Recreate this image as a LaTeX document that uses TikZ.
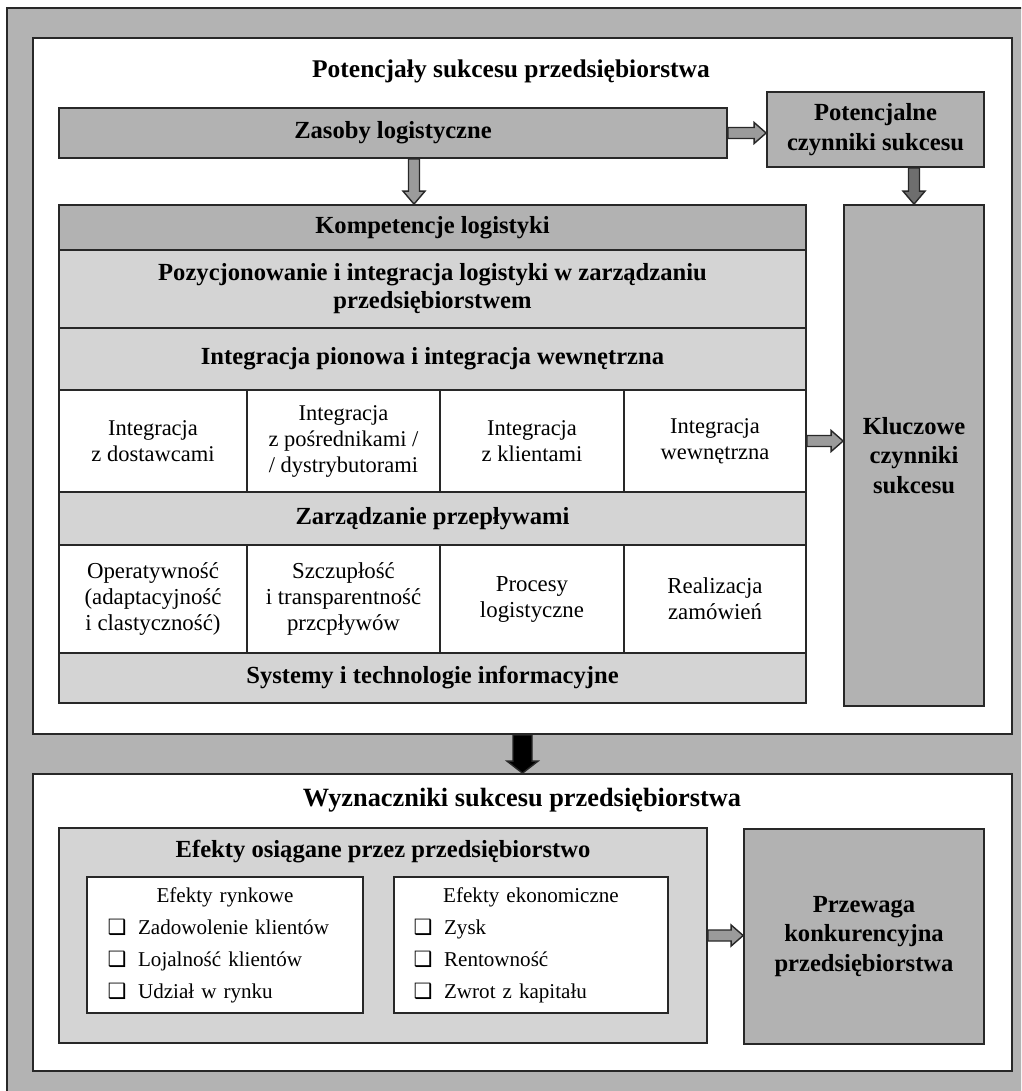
\documentclass[tikz,border=0pt]{standalone}
\usepackage{fontspec}
\setmainfont{Liberation Serif}
\newfontfamily\symfont{DejaVu Sans}
\usetikzlibrary{positioning, calc}
\definecolor{bggray}{RGB}{179,179,179}
\definecolor{boxdark}{RGB}{178,178,178}
\definecolor{boxlight}{RGB}{212,212,212}
\definecolor{arrowgray}{RGB}{155,155,155}
\definecolor{arrowdark}{RGB}{110,110,110}
\definecolor{edgegray}{RGB}{40,40,40}
\newcommand{\headfont}{\fontsize{14}{17}\selectfont\bfseries}
\newcommand{\cellfont}{\fontsize{12.8}{14.8}\selectfont}
\newcommand{\listfont}{\fontsize{12}{18.2}\selectfont}
\newcommand{\chk}{\makebox[1.45em][l]{\symfont\fontsize{12}{12}\selectfont ❑}}
% block arrows: start, tip, fill
\newcommand{\rarrow}[3]{\draw[arrowline, fill=#3] ($(#1)+(0,-5.5)$) -- ($(#2)+(-12,-5.5)$) -- ($(#2)+(-12,-10.5)$) -- (#2) -- ($(#2)+(-12,10.5)$) -- ($(#2)+(-12,5.5)$) -- ($(#1)+(0,5.5)$) -- cycle;}
\newcommand{\darrow}[3]{\draw[arrowline, fill=#3] ($(#1)+(-5.5,0)$) -- ($(#2)+(-5.5,-13)$) -- ($(#2)+(-11,-13)$) -- (#2) -- ($(#2)+(11,-13)$) -- ($(#2)+(5.5,-13)$) -- ($(#1)+(5.5,0)$) -- cycle;}
\tikzset{
  size/.style 2 args={minimum width=#1*0.02cm, minimum height=#2*0.02cm},
  box/.style={draw=edgegray, line width=1pt, inner sep=0pt, align=center},
  panel/.style={box, fill=white},
  darkbox/.style={box, fill=boxdark, font=\headfont},
  lightbox/.style={box, fill=boxlight, font=\headfont},
  cell/.style={box, fill=white, font=\cellfont},
  cellb/.style={box, fill=white, font=\fontsize{13}{14.8}\selectfont},
  listbox/.style={box, fill=white, font=\listfont, text width=4.7cm, align=left},
  heading/.style={font=\headfont},
  arrowline/.style={draw=edgegray, line width=0.8pt, line join=miter}
}

\begin{document}
\begin{tikzpicture}[x=0.02cm, y=-0.02cm]
  \useasboundingbox (0,0) rectangle (1021,1091);
  \clip (0,0) rectangle (1021,1091);
  \draw[edgegray, line width=1pt, fill=bggray] (7,8) rectangle (1060,1120);

  % potencjaly
  \node[panel, size={979}{696}] (toppanel) at (522.5,386) {};
  \node[heading, font=\fontsize{14.5}{17}\selectfont\bfseries] (ttop) at (511,71) {Potencjały sukcesu przedsiębiorstwa};
  \node[darkbox, size={668}{50}] (zasoby) at (393,133) {Zasoby logistyczne};
  \node[darkbox, size={217}{75}] (potenc) at (875.5,129.5) {Potencjalne\\czynniki sukcesu};
  \node[darkbox, size={747}{45}] (kompet) at (432.5,227.5) {Kompetencje logistyki};
  \node[lightbox, size={747}{78}, font=\fontsize{14}{16}\selectfont\bfseries] (pozyc) at (432.5,289) {Pozycjonowanie i integracja logistyki w zarządzaniu\\przedsiębiorstwem};
  \node[lightbox, size={747}{62}] (pion) at (432.5,359) {Integracja pionowa i integracja wewnętrzna};
  \node[cell, size={188}{102}] (dost) at (153,441) {Integracja\\z dostawcami};
  \node[cell, size={193}{102}] (posr) at (343.5,441) {Integracja\\z pośrednikami /\\/ dystrybutorami};
  \node[cell, size={184}{102}] (klient) at (532,441) {Integracja\\z klientami};
  \node[cell, size={182}{102}] (wewn) at (715,441) {Integracja\\wewnętrzna};
  \node[lightbox, size={747}{53}] (przepl) at (432.5,518.5) {Zarządzanie przepływami};
  \node[cellb, size={188}{108}] (operat) at (153,599) {Operatywność\\(adaptacyjność\\i clastyczność)};
  \node[cellb, size={193}{108}] (szczup) at (343.5,599) {Szczupłość\\i transparentność\\przcpływów};
  \node[cellb, size={184}{108}] (proces) at (532,599) {Procesy\\logistyczne};
  \node[cellb, size={182}{108}] (realiz) at (715,599) {Realizacja\\zamówień};
  \node[lightbox, size={747}{50}] (systemy) at (432.5,678) {Systemy i technologie informacyjne};
  \node[darkbox, size={140}{501}] (klucz) at (914,455.5) {Kluczowe\\czynniki\\sukcesu};

  % wyznaczniki
  \node[panel, size={979}{297}] (botpanel) at (522.5,922.5) {};
  \node[heading, font=\fontsize{15}{17}\selectfont\bfseries] (tbot) at (522,800) {Wyznaczniki sukcesu przedsiębiorstwa};
  \node[lightbox, size={648}{215}] (efekty) at (383,935.5) {};
  \node[heading] (tefekty) at (383,852) {Efekty osiągane przez przedsiębiorstwo};
  \node[listbox, size={276}{136}] (rynk) at (225,945) {\makebox[4.7cm]{Efekty rynkowe}\\
    \chk Zadowolenie klientów\\ \chk Lojalność klientów\\ \chk Udział w rynku};
  \node[listbox, size={274}{136}] (ekon) at (531,945) {\makebox[4.7cm]{Efekty ekonomiczne}\\
    \chk Zysk\\ \chk Rentowność\\ \chk Zwrot z kapitału};
  \node[darkbox, size={240}{215}] (przew) at (864,936.5) {Przewaga\\konkurencyjna\\przedsiębiorstwa};

  \coordinate (zk) at ($(zasoby.south)+(21,0)$);
  \rarrow{zasoby.east}{zasoby.east -| potenc.west}{arrowgray}
  \darrow{zk}{zk |- kompet.north}{arrowgray}
  \darrow{potenc.south -| klucz.north}{klucz.north}{arrowdark}
  \rarrow{wewn.east}{wewn.east -| klucz.west}{arrowgray}
  \rarrow{efekty.east}{efekty.east -| przew.west}{arrowgray}
  \draw[arrowline, fill=black] ($(toppanel.south)+(-9.5,0)$) -- ($(botpanel.north)+(-9.5,-12)$) -- ($(botpanel.north)+(-15.5,-12)$) -- (botpanel.north) -- ($(botpanel.north)+(15.5,-12)$) -- ($(botpanel.north)+(9.5,-12)$) -- ($(toppanel.south)+(9.5,0)$) -- cycle;
\end{tikzpicture}
\end{document}
